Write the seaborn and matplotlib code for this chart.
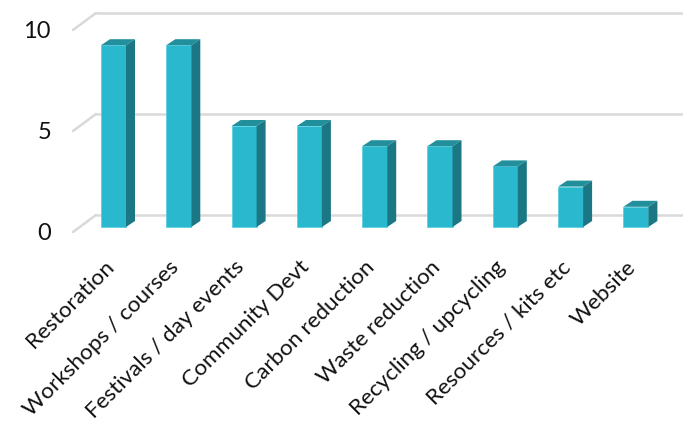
import matplotlib
matplotlib.use("Agg")
import matplotlib.pyplot as plt
import seaborn as sns
import pandas as pd
from matplotlib.patches import Polygon

categories = ["Restoration", "Workshops / courses", "Festivals / day events",
              "Community Devt", "Carbon reduction", "Waste reduction",
              "Recycling / upcycling", "Resources / kits etc", "Website"]
values = [9, 9, 5, 5, 4, 4, 3, 2, 1]
y_ticks = [0, 5, 10]

sns.set_theme(style="white")
plt.rcParams["font.family"] = ["Lato", "DejaVu Sans"]

W, H = 683, 425
fig = plt.figure(figsize=(W / 100, H / 100), dpi=100)
ax = fig.add_axes([0, 0, 1, 1])

# pixel geometry helpers (layout only)
cx0, step = 113.5, 65.3      # first category centre, category spacing (px)
y0pix, unit = 227.0, 20.2    # pixel row of value 0 (bar front), px per unit
def px2x(p):
    return (p - cx0) / step
def row2y(r):
    return (y0pix - r) / unit

front_c = "#29b8ce"
side_c = "#1b7784"
top_c = "#228f9d"
grid_c = "#d9d9d9"

df = pd.DataFrame({"cat": categories, "val": values})
sns.barplot(data=df, x="cat", y="val", color=front_c, saturation=1,
            width=25 / step, ax=ax, zorder=3, edgecolor="#5fd0e0", linewidth=0.6)
ax.set_xlim(px2x(0), px2x(W))
ax.set_ylim(row2y(H), row2y(0))
ax.axis("off")

# perspective gridlines
back_dy = 12 / unit
front_dy = -5 / unit
xb = px2x(96)
xf = px2x(73)
for v in y_ticks:
    ax.plot([xb, px2x(W)], [v + back_dy, v + back_dy], color=grid_c, lw=1.8, zorder=1,
            solid_capstyle="butt")
    ax.plot([xf, xb], [v + front_dy, v + back_dy], color=grid_c, lw=1.8, zorder=1)
    ax.text(px2x(51), v - 0.3, str(v), ha="right", va="center", fontsize=17,
            color="#111111")

# 3D faces of bars
ddx = 9 / step
ddy = 6 / unit
for p in ax.patches[:len(values)]:
    x0, w, h = p.get_x(), p.get_width(), p.get_height()
    top = Polygon([(x0, h), (x0 + w, h), (x0 + w + ddx, h + ddy), (x0 + ddx, h + ddy)],
                  closed=True, facecolor=top_c, edgecolor="none", zorder=3)
    side = Polygon([(x0 + w, 0), (x0 + w + ddx, ddy), (x0 + w + ddx, h + ddy), (x0 + w, h)],
                   closed=True, facecolor=side_c, edgecolor="none", zorder=3)
    ax.add_patch(top)
    ax.add_patch(side)

# category labels
for i, c in enumerate(categories):
    ax.text(i - 3 / step, row2y(264), c, rotation=45, rotation_mode="anchor",
            ha="right", va="center", fontsize=16.2, color="#111111")

fig.savefig("out.png", dpi=100)
